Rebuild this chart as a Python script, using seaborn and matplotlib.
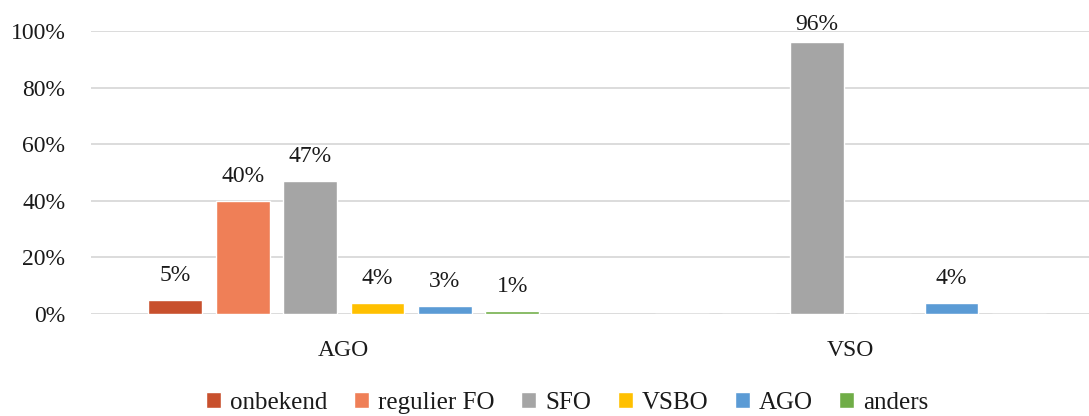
import matplotlib
matplotlib.use("Agg")
import matplotlib.pyplot as plt
import seaborn as sns
import pandas as pd
from matplotlib.ticker import FuncFormatter

groups = ["AGO", "VSO"]
series = ["onbekend", "regulier FO", "SFO", "VSBO", "AGO", "anders"]
values_ago = [5, 40, 47, 4, 3, 1]
values_vso = [0, 0, 96, 0, 4, 0]
colors = ["#C8502D", "#EF7F57", "#A5A5A5", "#FFC000", "#5B9BD5", "#70AD47"]
yticks = [0, 20, 40, 60, 80, 100]

rows = []
for g, vals in zip(groups, [values_ago, values_vso]):
    for s, v in zip(series, vals):
        rows.append({"group": g, "series": s, "value": v})
df = pd.DataFrame(rows)

sns.set_style("white")
plt.rcParams["font.family"] = ["Liberation Serif", "DejaVu Serif"]
FS = 17
TXT = "#1a1a1a"

fig = plt.figure(figsize=(10.89, 4.16), dpi=100)
ax = fig.add_axes([91 / 1089, 102 / 416, 998 / 1089, 283 / 416])

sns.barplot(data=df, x="group", y="value", hue="series", hue_order=series,
            order=groups, palette=colors, saturation=1, width=0.798, gap=0.2,
            errorbar=None, ax=ax, legend=True)

for cont in ax.containers:
    vals = cont.datavalues
    low = [f"{v:.0f}%" if 0 < v < 90 else "" for v in vals]
    high = [f"{v:.0f}%" if v >= 90 else "" for v in vals]
    ax.bar_label(cont, labels=low, padding=10, fontsize=FS, color=TXT)
    ax.bar_label(cont, labels=high, padding=5, fontsize=FS, color=TXT)

ax.set_ylim(0, 100)
ax.set_xlim(-0.499, 1.471)
ax.set_yticks(yticks)
ax.yaxis.set_major_formatter(FuncFormatter(lambda v, p: f"{v:.0f}%"))
ax.grid(axis="y", color="#D9D9D9", linewidth=1.3)
ax.set_axisbelow(True)
for sp in ax.spines.values():
    sp.set_visible(False)
ax.tick_params(axis="y", length=0, pad=18.5, labelsize=FS, labelcolor=TXT)
ax.tick_params(axis="x", length=0, pad=19, labelsize=FS, labelcolor=TXT)
ax.set_xlabel("")
ax.set_ylabel("")

handles, labels = ax.get_legend_handles_labels()
ax.get_legend().remove()
fig.legend(handles, labels, loc="center", bbox_to_anchor=(0.521, 0.031),
           ncol=6, frameon=False, fontsize=18, handlelength=0.6,
           handleheight=0.6, handletextpad=0.35, columnspacing=1.07,
           labelcolor=TXT)

fig.savefig("out.png", dpi=100)
